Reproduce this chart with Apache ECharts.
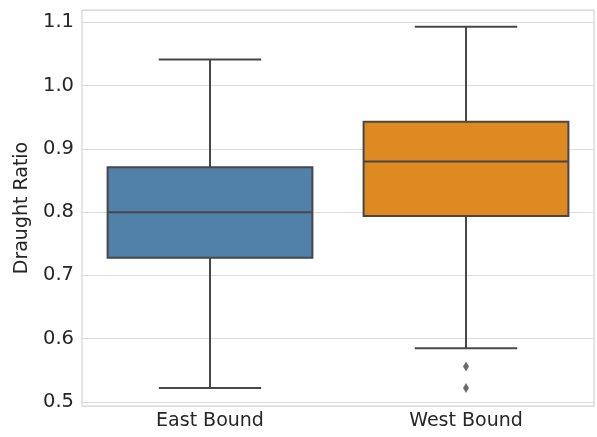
<!DOCTYPE html>
<html>
<head>
<meta charset="utf-8">
<script src="https://cdn.jsdelivr.net/npm/echarts@6/dist/echarts.min.js"></script>
<style>
  html, body { margin: 0; padding: 0; background: #fff; }
  #chart { width: 597px; height: 437px; }
</style>
</head>
<body>
<div id="chart"></div>
<script>
// Draught ratio distribution per travel direction
const categories = ['East Bound', 'West Bound'];
const whiskerLow = [0.522, 0.585];
const quartile1 = [0.728, 0.794];
const medians = [0.800, 0.880];
const quartile3 = [0.871, 0.943];
const whiskerHigh = [1.041, 1.093];
const fliers = [[1, 0.556], [1, 0.522]];
const boxColors = ['#5180a8', '#df8922'];

const lineColor = '#474747';
const textColor = '#262626';

const boxData = categories.map((c, i) => [i, whiskerLow[i], quartile1[i], medians[i], quartile3[i], whiskerHigh[i]]);

function renderBox(params, api) {
  const idx = api.value(0);
  const band = api.size([1, 0])[0];
  const half = band * 0.8 / 2;
  const capHalf = half / 2;
  const pLow = api.coord([idx, api.value(1)]);
  const pQ1 = api.coord([idx, api.value(2)]);
  const pMed = api.coord([idx, api.value(3)]);
  const pQ3 = api.coord([idx, api.value(4)]);
  const pHigh = api.coord([idx, api.value(5)]);
  const x = pMed[0];
  const stroke = { stroke: lineColor, lineWidth: 2, fill: null };
  return {
    type: 'group',
    children: [
      { type: 'line', shape: { x1: x, y1: pQ3[1], x2: x, y2: pHigh[1] }, style: stroke },
      { type: 'line', shape: { x1: x, y1: pQ1[1], x2: x, y2: pLow[1] }, style: stroke },
      { type: 'line', shape: { x1: x - capHalf, y1: pHigh[1], x2: x + capHalf, y2: pHigh[1] }, style: stroke },
      { type: 'line', shape: { x1: x - capHalf, y1: pLow[1], x2: x + capHalf, y2: pLow[1] }, style: stroke },
      { type: 'rect', shape: { x: x - half, y: pQ3[1], width: half * 2, height: pQ1[1] - pQ3[1] },
        style: { fill: boxColors[idx], stroke: lineColor, lineWidth: 2 } },
      { type: 'line', shape: { x1: x - half, y1: pMed[1], x2: x + half, y2: pMed[1] }, style: stroke }
    ]
  };
}

const chart = echarts.init(document.getElementById('chart'), null, { renderer: 'canvas' });
chart.setOption({
  animation: false,
  backgroundColor: '#ffffff',
  grid: { left: 82, right: 3, top: 10, bottom: 31, show: true, borderColor: '#d4d4d4', borderWidth: 1.2 },
  xAxis: {
    type: 'category',
    data: categories,
    axisLine: { show: false },
    axisTick: { show: false },
    axisLabel: { color: textColor, fontFamily: 'DejaVu Sans', fontSize: 19, margin: 6 },
    splitLine: { show: false }
  },
  yAxis: {
    type: 'value',
    min: 0.4937,
    max: 1.1194,
    splitNumber: 6,
    name: 'Draught Ratio',
    nameLocation: 'middle',
    nameGap: 50,
    nameTextStyle: { color: textColor, fontFamily: 'DejaVu Sans', fontSize: 19 },
    axisLine: { show: false },
    axisTick: { show: false },
    axisLabel: {
      color: textColor, fontFamily: 'DejaVu Sans', fontSize: 19.5, margin: 8,
      showMinLabel: false, showMaxLabel: false,
      formatter: v => v.toFixed(1)
    },
    splitLine: { show: true, lineStyle: { color: '#dcdcdc', width: 1.2 } }
  },
  series: [
    {
      type: 'custom',
      renderItem: renderBox,
      data: boxData,
      encode: { x: 0, y: [1, 2, 3, 4, 5] },
      z: 3
    },
    {
      type: 'scatter',
      data: fliers,
      symbol: 'diamond',
      symbolSize: [6, 10],
      itemStyle: { color: lineColor },
      z: 4
    }
  ]
});
</script>
</body>
</html>
